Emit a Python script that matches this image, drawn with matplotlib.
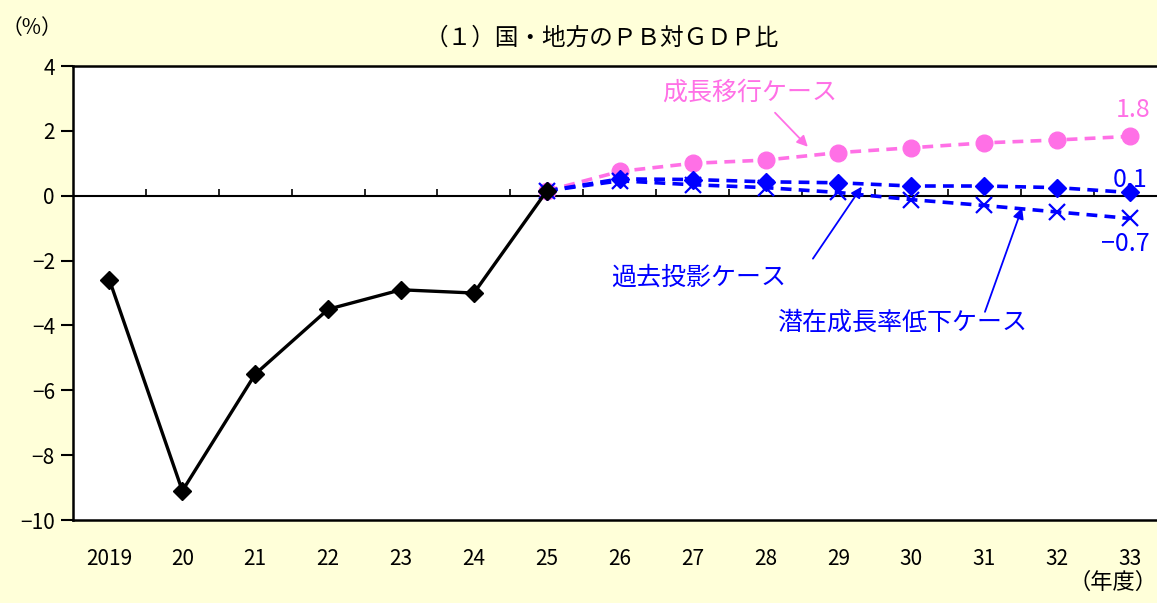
import matplotlib
matplotlib.use("Agg")
import matplotlib.pyplot as plt

plt.rcParams['font.family'] = ['Noto Sans CJK JP', 'DejaVu Sans']

# data (fiscal years, % of GDP)
years = ['2019', '20', '21', '22', '23', '24', '25', '26', '27', '28',
         '29', '30', '31', '32', '33']
actual = [-2.6, -9.1, -5.5, -3.5, -2.9, -3.0, 0.15]
growth = [0.15, 0.75, 1.0, 1.1, 1.33, 1.48, 1.63, 1.72, 1.83]
baseline = [0.15, 0.52, 0.5, 0.43, 0.4, 0.3, 0.3, 0.25, 0.1]
low_growth = [0.15, 0.46, 0.34, 0.25, 0.1, -0.12, -0.3, -0.5, -0.7]

pink = '#ff70e6'
blue = '#0000ff'
bg = '#ffffd9'

fig = plt.figure(figsize=(11.57, 6.03), dpi=100, facecolor=bg)
ax = fig.add_axes([0.0631, 0.1376, 0.9369, 0.7529])
ax.set_facecolor('white')

x_act = list(range(len(actual)))
x_proj = list(range(len(actual) - 1, len(years)))

ax.axhline(0, color='black', linewidth=1.5, zorder=1)
# small ticks on the zero line, between categories
ax.vlines([i + 0.5 for i in range(len(years) - 1)], 0, 0.22, color='black', linewidth=1.2, zorder=1)

ax.plot(x_proj, growth, color=pink, linestyle='--', linewidth=2.6, dashes=(3, 2),
        marker='o', markersize=12, zorder=3)
ax.plot(x_proj, baseline, color=blue, linestyle='--', linewidth=2.6, dashes=(3, 2),
        marker='D', markersize=9, zorder=4)
ax.plot(x_proj, low_growth, color=blue, linestyle='--', linewidth=2.6, dashes=(3, 2),
        marker='x', markersize=11, markeredgewidth=1.6, zorder=4)
ax.plot(x_act, actual, color='black', linewidth=2.4, marker='D', markersize=9, zorder=5)

ax.set_xlim(-0.5, 14.37)
ax.set_ylim(-10, 4)
ax.set_yticks(range(-10, 5, 2))
ax.set_yticklabels([str(v) if v >= 0 else '\u2212' + str(-v) for v in range(-10, 5, 2)])
ax.set_xticks(range(len(years)))
ax.set_xticklabels(years)
ax.tick_params(axis='x', length=0, pad=20, labelsize=15)
ax.tick_params(axis='y', length=9, width=1.5, direction='out', labelsize=15, pad=4)
for s in ['left', 'bottom', 'top']:
    ax.spines[s].set_linewidth(1.8)
ax.spines['right'].set_visible(False)

# case labels and arrows
arrow = dict(arrowstyle='-|>', lw=1.3, mutation_scale=16, shrinkA=0, shrinkB=0)
ax.text(8.78, 3.18, '成長移行ケース', color=pink, fontsize=18, ha='center', va='center')
ax.annotate('', xy=(9.58, 1.51), xytext=(9.13, 2.56), arrowprops=dict(arrow, color=pink))
ax.text(8.08, -2.53, '過去投影ケース', color=blue, fontsize=18, ha='center', va='center')
ax.annotate('', xy=(10.32, 0.28), xytext=(9.65, -1.94), arrowprops=dict(arrow, color=blue))
ax.text(10.87, -3.92, '潜在成長率低下ケース', color=blue, fontsize=18, ha='center', va='center')
ax.annotate('', xy=(12.52, -0.37), xytext=(12.01, -3.58), arrowprops=dict(arrow, color=blue))

ax.text(14.04, 2.65, '1.8', color=pink, fontsize=18, ha='center', va='center')
ax.text(14.0, 0.49, '0.1', color=blue, fontsize=18, ha='center', va='center')
ax.text(13.93, -1.48, '\u22120.7', color=blue, fontsize=18, ha='center', va='center')

fig.text(0.52, 0.937, '（１）国・地方のＰＢ対ＧＤＰ比', fontsize=17, ha='center', va='center')
fig.text(0.028, 0.954, '（%）', fontsize=15, ha='center', va='center')
fig.text(0.962, 0.034, '（年度）', fontsize=16, ha='center', va='center')

fig.savefig('out.png', dpi=100, facecolor=bg)
